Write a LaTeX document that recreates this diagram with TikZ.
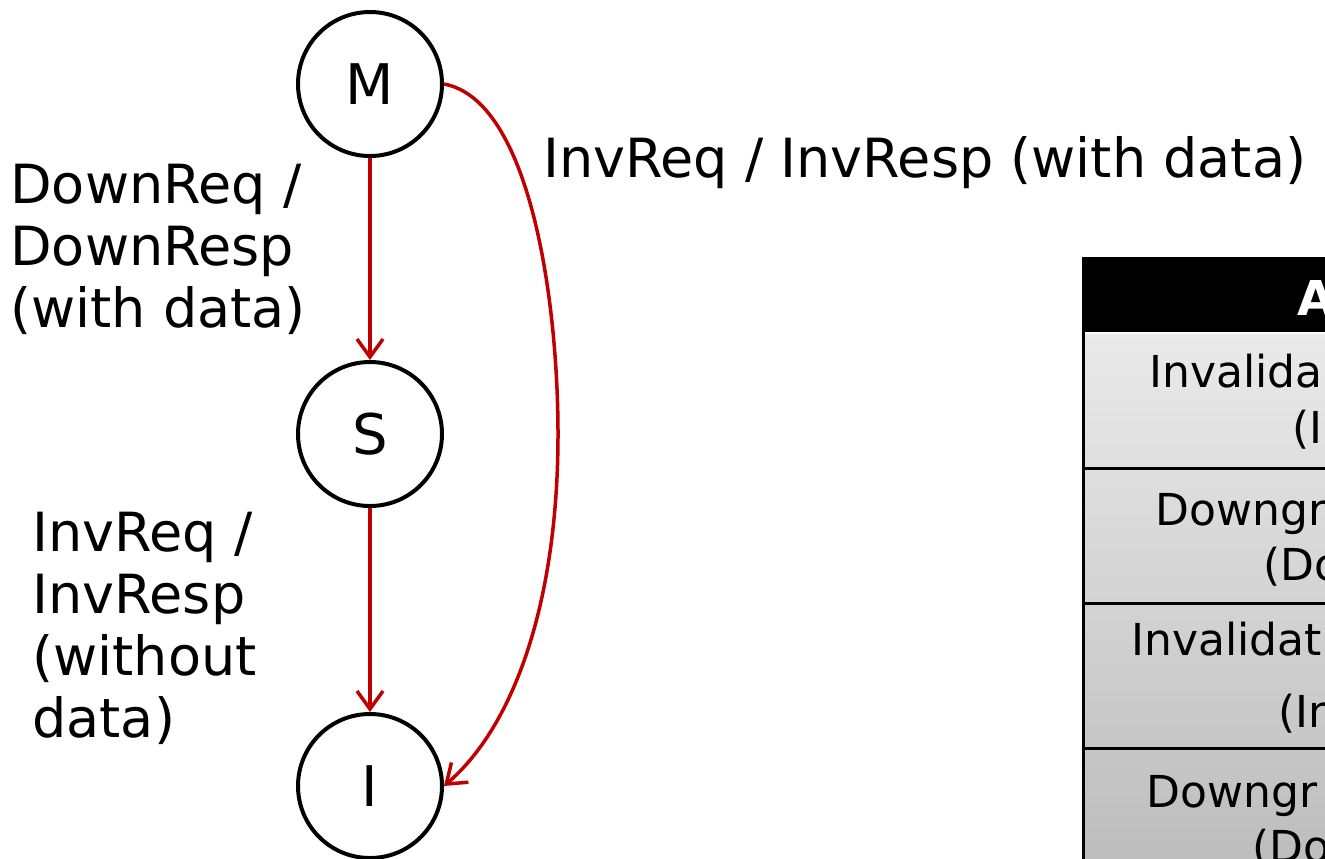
\documentclass[tikz,border=0pt]{standalone}
\usepackage{fontspec}
\setmainfont{DejaVu Sans}
\usetikzlibrary{arrows.meta}
\definecolor{arrowred}{HTML}{C00000}
\definecolor{rowtop}{HTML}{EAEAEA}
\definecolor{rowbot}{HTML}{BCBCBC}
\begin{document}
\begin{tikzpicture}[x=0.5pt,y=-0.5pt,
  state/.style={circle,draw=black,line width=2pt,minimum size=72pt,inner sep=0pt,
    font=\fontsize{28}{34}\selectfont},
  trans/.style={draw=arrowred,line width=1.75pt,
    -{Straight Barb[length=9pt,width=13pt]}},
  lbl/.style={font=\fontsize{27}{31}\selectfont,align=left,inner sep=0pt,anchor=base west},
  cell/.style={font=\fontsize{22}{28}\selectfont,inner sep=0pt,anchor=base west},
  hdr/.style={font=\fontsize{24}{29}\selectfont\bfseries,text=white,inner sep=0pt,anchor=base west},
  rule/.style={line width=1.5pt,draw=black}
]
\useasboundingbox (0,0) rectangle (1325,858);
\clip (0,0) rectangle (1325,858);

% states
\node[state] (M) at (370,84) {M};
\node[state] (S) at (370,434) {S};
\node[state] (I) at (370,786) {I};

% transitions
\draw[trans] (M) -- (S);
\draw[trans] (S) -- (I);
\coordinate (far) at (558,434);
\draw[trans] (M.east) .. controls (530,100) and (558,300) .. (far)
  .. controls (558,600) and (515,725) .. (I.east);

% labels (anchor = baseline of last line)
\node[lbl] (lDown) at (10,327) {DownReq /\\DownResp\\(with data)};
\node[lbl] (lInvS) at (32,737) {InvReq /\\InvResp\\(without\\data)};
\node[lbl] (lInvM) at (543,177) {InvReq / InvResp (with data)};

% table
\fill[black] (1083,257) rectangle (1400,332);
\shade[top color=rowtop,bottom color=rowbot] (1083,334) rectangle (1400,870);
\draw[rule] (1083,257) -- (1083,870);
\draw[rule] (1083,468) -- (1400,468);
\draw[rule] (1083,603) -- (1400,603);
\draw[rule] (1083,748) -- (1400,748);

\node[hdr] (hA) at (1297,315) {A};
\node[cell] (r1a) at (1149,387) {Invalida};
\node[cell] (r1b) at (1292,443) {(I};
\node[cell] (r2a) at (1155,525) {Downgr};
\node[cell] (r2b) at (1263,580) {(Do};
\node[cell] (r3a) at (1131,655) {Invalidat};
\node[cell] (r3b) at (1278,727) {(In};
\node[cell] (r4a) at (1146,807) {Downgr};
\node[cell] (r4b) at (1252,862) {(Do};
\end{tikzpicture}
\end{document}
